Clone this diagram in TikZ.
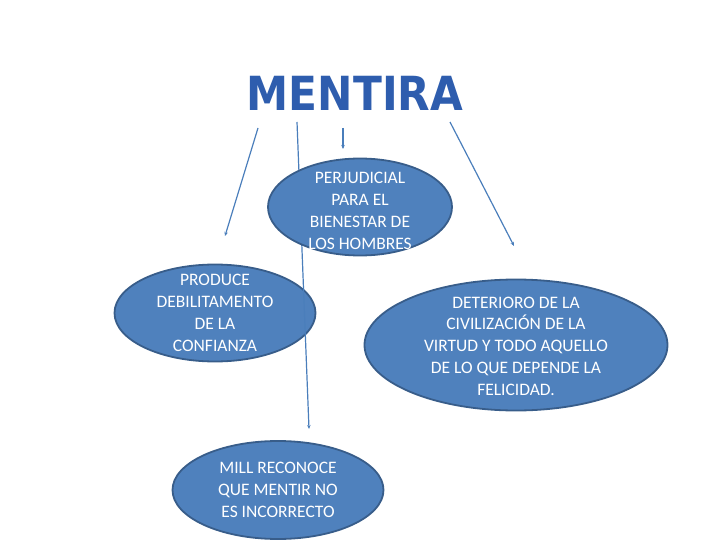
\documentclass[tikz,border=0pt]{standalone}
\usepackage{fontspec}
\setmainfont{Carlito}
\newfontfamily\titlefont{DejaVu Sans}
\usetikzlibrary{shapes.geometric,arrows.meta}
\definecolor{ellfill}{HTML}{4F81BD}
\definecolor{elldraw}{HTML}{385D8A}
\definecolor{conn}{HTML}{4A7EBB}
\definecolor{titleblue}{HTML}{2E5DAE}
\tikzset{
  bubble/.style={ellipse, fill=ellfill, draw=elldraw, line width=1.8pt, inner sep=0pt},
  bubbletext/.style={inner sep=0pt, text=white, align=center, font=\fontsize{17.5}{21.8}\selectfont},
  conline/.style={draw=conn, line width=1.2pt},
  conarrow/.style={conline, -{Stealth[length=4pt,width=3.5pt]}}
}
\begin{document}
\begin{tikzpicture}[x=1pt,y=-1pt]
\useasboundingbox (0,0) rectangle (720,540);
% title
\node[font=\titlefont\bfseries\fontsize{47}{47}\selectfont, text=titleblue,
  draw=none, inner sep=0pt, xscale=0.9] (title) at (355,93) {MENTIRA};
% coordinates
\coordinate (a1s) at (258,128); \coordinate (a1e) at (225,236);
\coordinate (a2s) at (297,122); \coordinate (a2e) at (309,429);
\coordinate (a3s) at (343,128); \coordinate (a3e) at (343,149);
\coordinate (a4s) at (450,122); \coordinate (a4e) at (514,246);
% PRODUCE ellipse (below long line)
\node[bubble, minimum width=201pt, minimum height=97pt] (prod) at (215,313) {};
\node[bubbletext] (prodt) at (215,313) {PRODUCE\\DEBILITAMENTO\\DE LA\\CONFIANZA};
\draw[conarrow] (a2s) -- (a2e);
\node[bubble, minimum width=184pt, minimum height=97pt] (perj) at (360,207) {};
\node[bubbletext] (perjt) at (360,211) {PERJUDICIAL\\PARA EL\\BIENESTAR DE\\LOS HOMBRES};
\node[bubble, minimum width=303pt, minimum height=131pt] (det) at (516,345) {};
\node[bubbletext] (dett) at (516,346) {DETERIORO DE LA\\CIVILIZACIÓN DE LA\\VIRTUD Y TODO AQUELLO\\DE LO QUE DEPENDE LA\\FELICIDAD.};
\node[bubble, minimum width=211pt, minimum height=98pt] (mill) at (278,490) {};
\node[bubbletext] (millt) at (278,490) {MILL RECONOCE\\QUE MENTIR NO\\ES INCORRECTO};
\draw[conarrow] (a1s) -- (a1e);
\draw[conarrow] (a3s) -- (a3e);
\draw[conarrow] (a4s) -- (a4e);
\end{tikzpicture}
\end{document}
